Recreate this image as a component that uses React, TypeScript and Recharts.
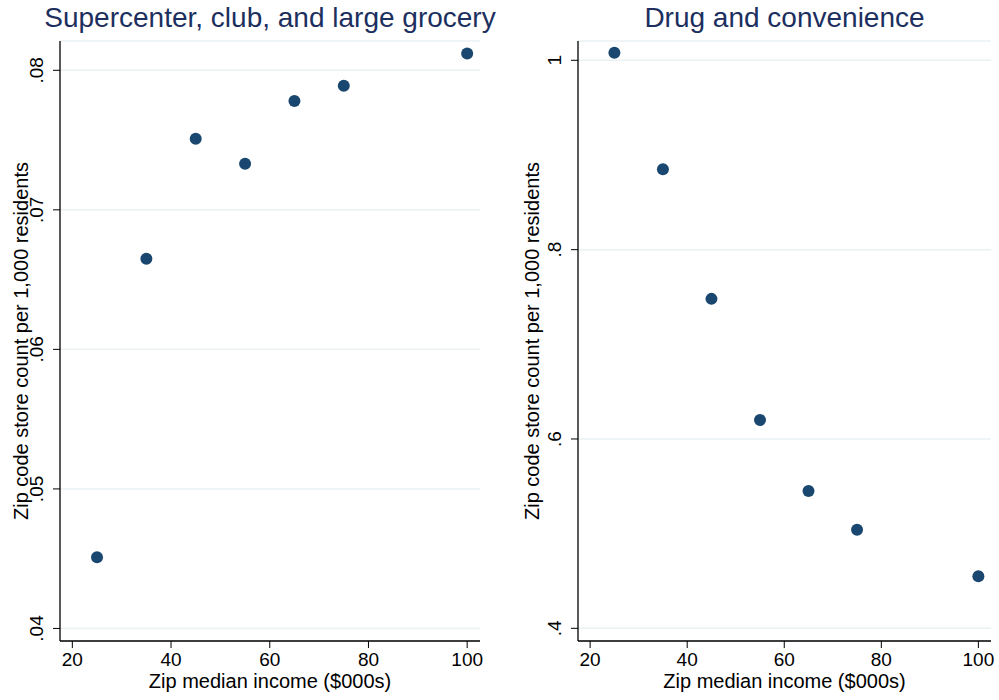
import { CartesianGrid, Scatter, ScatterChart, XAxis, YAxis } from 'recharts'

const FONT = '"Liberation Sans", Arial, Helvetica, sans-serif'
const TITLE_INK = '#1c2f5e'
const MARKER = '#1a476f'
const GRID = '#eaf2f3'

// zip median income bins ($000s)
const incomeBins = [25, 35, 45, 55, 65, 75, 100]
const superValues = [0.0451, 0.0665, 0.0751, 0.0733, 0.0778, 0.0789, 0.0812]
const drugValues = [1.008, 0.885, 0.748, 0.62, 0.545, 0.504, 0.455]
const xTicks = [20, 40, 60, 80, 100]
const superTicks = [0.04, 0.05, 0.06, 0.07, 0.08]
const drugTicks = [0.4, 0.6, 0.8, 1]

const Y_TITLE = 'Zip code store count per 1,000 residents'
const X_TITLE = 'Zip median income ($000s)'

const fmtDecimal = (v: number) => (v >= 1 ? String(v) : String(v).replace(/^0/, ''))

function YTick(props: any) {
  const { x, y, payload } = props
  const bx = x - 8
  return (
    <text x={bx} y={y} transform={`rotate(-90, ${bx}, ${y})`} textAnchor="middle" fontSize={19} fontFamily={FONT} fill="#000">
      {fmtDecimal(payload.value)}
    </text>
  )
}

type PanelProps = {
  title: string
  values: number[]
  yTicks: number[]
  yDomain: [number, number]
  width: number
  yAxisWidth: number
  rightMargin: number
  yTitleX: number
}

function Panel({ title, values, yTicks, yDomain, width, yAxisWidth, rightMargin, yTitleX }: PanelProps) {
  const data = incomeBins.map((x, i) => ({ x, y: values[i] }))
  const plotCenter = (yAxisWidth + width - rightMargin) / 2
  return (
    <div style={{ position: 'relative', width, height: 700 }}>
      <div
        style={{
          position: 'absolute',
          top: 2,
          left: plotCenter - 300,
          width: 600,
          textAlign: 'center',
          fontFamily: FONT,
          fontSize: 28,
          lineHeight: '32px',
          color: TITLE_INK,
          whiteSpace: 'nowrap',
        }}
      >
        {title}
      </div>
      <ScatterChart width={width} height={700} margin={{ top: 41, right: rightMargin, bottom: 0, left: 0 }}>
        <CartesianGrid vertical={false} stroke={GRID} strokeWidth={1.5} />
        <XAxis
          type="number"
          dataKey="x"
          domain={[17.5, 102.6]}
          ticks={xTicks}
          height={59}
          tickSize={7}
          tickMargin={5}
          tick={{ fontSize: 19, fontFamily: FONT, fill: '#000' }}
          axisLine={{ stroke: '#000', strokeWidth: 1.3 }}
          tickLine={{ stroke: '#000' }}
          label={(p: any) => (
            <text x={plotCenter} y={p.viewBox.y + 47} textAnchor="middle" fontSize={20} fontFamily={FONT} fill="#000">
              {X_TITLE}
            </text>
          )}
        />
        <YAxis
          type="number"
          dataKey="y"
          domain={yDomain}
          ticks={yTicks}
          width={yAxisWidth}
          tickSize={7}
          tickMargin={2}
          tick={<YTick />}
          axisLine={{ stroke: '#000', strokeWidth: 1.3 }}
          tickLine={{ stroke: '#000' }}
          label={(p: any) => {
            const cy = p.viewBox.y + p.viewBox.height / 2
            return (
              <text x={yTitleX} y={cy} transform={`rotate(-90, ${yTitleX}, ${cy})`} textAnchor="middle" fontSize={20} fontFamily={FONT} fill="#000">
                {Y_TITLE}
              </text>
            )
          }}
        />
        <Scatter
          data={data}
          fill={MARKER}
          isAnimationActive={false}
          shape={(p: any) => <circle cx={p.cx} cy={p.cy} r={6} fill={MARKER} />}
        />
      </ScatterChart>
    </div>
  )
}

export default function App() {
  return (
    <div style={{ position: 'absolute', left: 0, top: 0, width: 999, height: 700, background: '#fff', display: 'flex' }}>
      <Panel
        title="Supercenter, club, and large grocery"
        values={superValues}
        yTicks={superTicks}
        yDomain={[0.0391, 0.0821]}
        width={500}
        yAxisWidth={60}
        rightMargin={20}
        yTitleX={28}
      />
      <Panel
        title="Drug and convenience"
        values={drugValues}
        yTicks={drugTicks}
        yDomain={[0.3866, 1.0204]}
        width={499}
        yAxisWidth={78}
        rightMargin={8}
        yTitleX={39}
      />
    </div>
  )
}
